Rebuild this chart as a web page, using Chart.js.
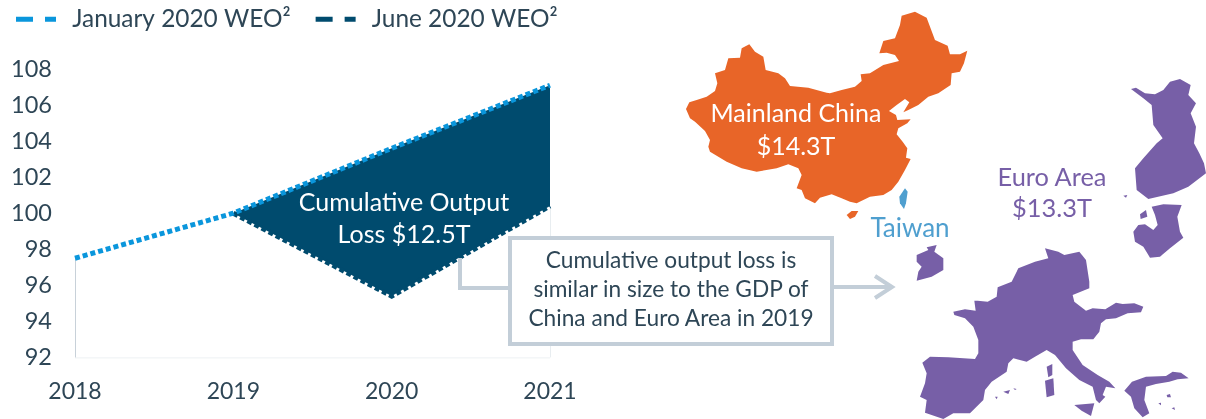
<!DOCTYPE html>
<html><head><meta charset="utf-8">
<script src="https://cdn.jsdelivr.net/npm/chart.js@4"></script>
<style>
html,body{margin:0;padding:0;background:#fff;width:1206px;height:419px;overflow:hidden}
#wrap{position:relative;width:1206px;height:419px}
canvas{position:absolute;left:0;top:0}
svg{position:absolute;left:0;top:0}
svg text{font-family:Lato,sans-serif;text-anchor:middle;dominant-baseline:central}
</style></head><body>
<div id="wrap"><canvas id="c" width="1206" height="419"></canvas>
<svg width="1206" height="419" viewBox="0 0 1206 419">
  <g transform="translate(680,5) scale(.3333)">
    <path fill="#e86528" d="M18,312L28,292L50,285L80,275L105,258L112,235L105,205L135,195L145,160L180,158L185,130L208,118L225,140L250,155L257,195L295,205L315,220L330,243L385,248L440,263L450,265L485,255L525,245L545,228L542,208L570,205L610,180L657,168L645,150L620,143L598,145L610,108L645,100L660,60L665,32L705,20L740,38L765,105L803,122L810,148L840,148L862,137L852,175L840,200L815,205L812,240L775,265L745,275L715,300L685,315L670,322L688,292L675,282L650,300L627,318L648,330L652,345L692,343L682,355L655,370L650,388L668,410L682,430L678,458L692,462L675,495L655,530L635,555L610,570L570,575L530,595L510,590L485,580L455,568L420,578L405,595L375,580L365,555L350,550L365,510L355,490L325,478L290,490L230,500L185,490L140,470L90,440L85,425L90,405L75,378L45,350L30,340Z"/>
    <path fill="#e86528" d="M500,630L515,618L535,618L525,635L510,642Z"/>
    <path fill="#4f9fcf" d="M675,550L683,560L678,595L672,612L660,595L658,575Z"/>
  </g>
  <g transform="translate(915,240) scale(.3333)" fill="#775fa7">
    <path d="M5,45L40,30L35,22L65,15L58,35L85,55L85,90L50,110L5,122L10,95L20,80L5,65Z"/>
    <path d="M115,215L150,208L182,212L178,182L188,182L218,185L245,170L248,142L290,125L310,85L360,65L400,55L390,25L430,35L448,45L493,35L513,60L523,125L523,145L473,165L478,185L513,212L533,205L571,208L603,188L623,192L658,190L685,200L678,217L638,220L603,235L573,238L558,250L553,275L535,298L498,298L473,305L473,330L503,375L548,405L583,425L601,445L573,440L563,465L571,470L553,490L543,480L533,440L493,420L453,385L420,345L395,330L360,350L335,365L295,355L280,370L275,395L230,425L210,450L205,480L165,520L115,520L85,537L30,518L35,480L15,470L30,430L35,400L22,368L45,350L100,352L180,357L190,340L190,300L175,260L150,235L118,225Z"/>
    <path d="M478,495L538,490L528,528L500,512Z"/>
    <path d="M395,380L412,372L412,405L400,412Z"/>
    <path d="M390,422L415,415L418,465L395,472Z"/>
    <path d="M265,455L285,450L280,462Z"/>
    <path d="M295,445L305,447L300,450Z"/>
    <path d="M240,470L248,470L245,478Z"/>
    <path d="M628,452L651,425L693,410L753,408L773,395L798,398L821,415L788,418L763,425L723,432L693,440L688,480L703,520L683,532L658,505L648,470Z"/>
    <path d="M755,465L765,462L768,472L757,472Z"/>
    <path d="M770,505L778,502L780,510Z"/>
    <path d="M730,490L738,488L738,496Z"/>
  </g>
  <g transform="translate(1120,75) scale(.3333)" fill="#775fa7">
    <path d="M33,42L48,38L75,55L105,58L130,45L150,20L180,12L212,30L205,60L228,85L212,115L228,155L222,205L238,235L252,265L258,295L205,335L160,355L85,372L50,345L45,280L70,250L110,205L128,190L100,150L95,90L70,70Z"/>
    <path d="M95,395L130,388L185,390L172,425L180,470L190,488L150,520L120,545L90,548L70,515L45,500L40,470L55,450L75,448L100,465L113,450L105,420Z"/>
    <path d="M60,418L78,405L82,425L62,432Z"/>
    <path d="M10,362L22,360L18,368Z"/>
  </g>
  <path d="M460,258V288H510" fill="none" stroke="#c3ced8" stroke-width="4"/>
  <rect x="510" y="238" width="322" height="106" fill="#fff" stroke="#c3ced8" stroke-width="4"/>
  <path d="M833,287H892M875,276L892,287L875,298" fill="none" stroke="#c3ced8" stroke-width="4"/>
  <g font-size="22.7" fill="#2e4656">
    <text x="671" y="259">Cumulative output loss is</text>
    <text x="671" y="288">similar in size to the GDP of</text>
    <text x="671" y="317">China and Euro Area in 2019</text>
  </g>
  <g font-size="25" fill="#fff">
    <text x="404" y="201">Cumulative Output</text>
    <text x="404" y="233">Loss $12.5T</text>
    <text x="796" y="112">Mainland China</text>
    <text x="796" y="145">$14.3T</text>
  </g>
  <g font-size="25.4" fill="#775fa7">
    <text x="1052" y="176">Euro Area</text>
    <text x="1052" y="207">$13.3T</text>
  </g>
  <text x="910" y="227" font-size="26" fill="#4f9fcf">Taiwan</text>
</svg></div>
<script>
const categories = ['2018','2019','2020','2021'];
const january2020 = [97.5,100,103.6,107.1];
const june2020 = [null,100,95.4,100.4];
const yTicks = [92,94,96,98,100,102,104,106,108];
const seriesNames = ['January 2020 WEO²','June 2020 WEO²'];
const seriesColors = ['#0a96dc','#004b6e'];
const textColor = '#2e4656';

const dropLines = {
  id:'dropLines',
  beforeDatasetsDraw(chart){
    const {ctx,scales:{x,y}} = chart;
    const base = y.getPixelForValue(92);
    ctx.save();ctx.lineWidth=1;
    ctx.strokeStyle='#edf1f3';
    ctx.beginPath();ctx.moveTo(x.getPixelForValue(0),base+.5);ctx.lineTo(x.getPixelForValue(3),base+.5);ctx.stroke();
    ctx.strokeStyle='#c8d1d9';
    ctx.beginPath();ctx.moveTo(x.getPixelForValue(0)+.5,y.getPixelForValue(january2020[0]));ctx.lineTo(x.getPixelForValue(0)+.5,base);ctx.stroke();
    ctx.strokeStyle='#e8edf0';
    ctx.beginPath();ctx.moveTo(x.getPixelForValue(3)+.5,y.getPixelForValue(june2020[3]));ctx.lineTo(x.getPixelForValue(3)+.5,base);ctx.stroke();
    ctx.restore();
  }
};
const legendSpace = {
  id:'legendSpace',
  beforeInit(chart){
    const legend = chart.legend;
    const fit = legend.fit, draw = legend.draw;
    legend.fit = function(){this.maxWidth=1000;fit.call(this);this.height=87;};
    legend.draw = function(){const r=this.right;this.right=1206;draw.call(this);this.right=r;};
  }
};
new Chart(document.getElementById('c'),{
  type:'line',
  data:{labels:categories,datasets:[
    {label:seriesNames[0],data:january2020,borderColor:seriesColors[0],borderWidth:5,borderDash:[5,3],pointRadius:0,tension:0,fill:false,order:1},
    {label:seriesNames[1],data:june2020,borderColor:seriesColors[1],borderWidth:5,borderDash:[5,3],pointRadius:0,tension:0,spanGaps:false,
      fill:{target:0,above:seriesColors[1],below:seriesColors[1]},order:2}
  ]},
  options:{
    responsive:false,animation:false,
    layout:{padding:{left:-9,right:656,top:-18,bottom:2}},
    plugins:{
      tooltip:{enabled:false},
      legend:{display:true,position:'top',align:'start',
        labels:{color:textColor,font:{family:'Lato',size:24.4},usePointStyle:true,pointStyle:'line',pointStyleWidth:44,boxHeight:24,padding:25,
          generateLabels(chart){
            return chart.data.datasets.map((d,i)=>({text:d.label,strokeStyle:d.borderColor,fillStyle:d.borderColor,lineWidth:5,lineDash:[17,12,11,100],pointStyle:'line',datasetIndex:i,fontColor:textColor}));
          }}}
    },
    scales:{
      x:{type:'category',offset:false,grid:{display:false},border:{display:false},
        ticks:{color:textColor,font:{family:'Lato',size:23},maxRotation:0,padding:12,autoSkip:false}},
      y:{min:92,max:108,grid:{display:false},border:{display:false},
        afterFit(s){s.width=84;},
        afterBuildTicks(s){s.ticks=yTicks.map(v=>({value:v}));},
        ticks:{color:textColor,font:{family:'Lato',size:23.5},padding:15}}
    }
  },
  plugins:[dropLines,legendSpace]
});
</script></body></html>
